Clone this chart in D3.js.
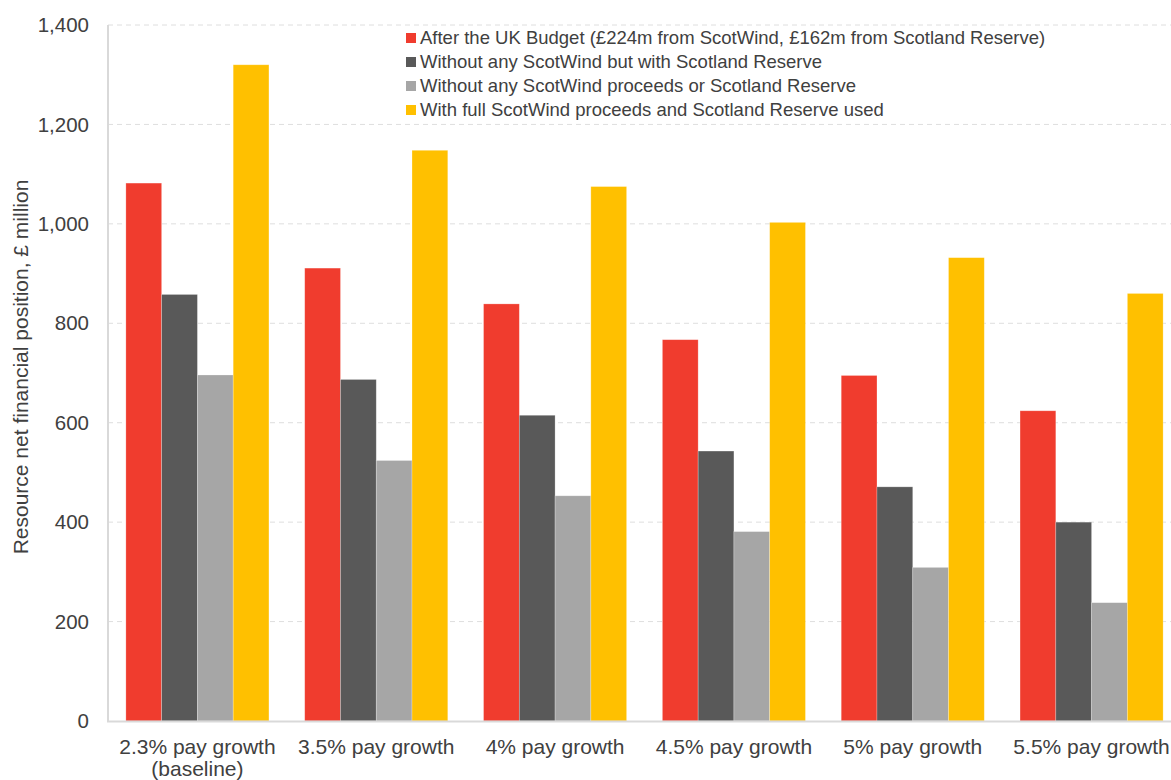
<!DOCTYPE html>
<html>
<head>
<meta charset="utf-8">
<script src="https://cdn.jsdelivr.net/npm/d3@7"></script>
<style>
  body { margin: 0; background: #fff; }
  svg text { font-family: "Liberation Sans", Arial, sans-serif; fill: #404040; }
</style>
</head>
<body>
<div id="chart"></div>
<script>
const categories = [
  ["2.3% pay growth", "(baseline)"],
  ["3.5% pay growth"],
  ["4% pay growth"],
  ["4.5% pay growth"],
  ["5% pay growth"],
  ["5.5% pay growth"]
];
const seriesNames = [
  "After the UK Budget (£224m from ScotWind, £162m from Scotland Reserve)",
  "Without any ScotWind but with Scotland Reserve",
  "Without any ScotWind proceeds or Scotland Reserve",
  "With full ScotWind proceeds and Scotland Reserve used"
];
const afterBudget = [1082, 911, 839, 767, 695, 624];
const noScotWind = [858, 687, 615, 543, 471, 400];
const noScotWindNoReserve = [696, 524, 453, 381, 309, 238];
const fullScotWind = [1320, 1148, 1075, 1003, 932, 860];
const yTicks = [0, 200, 400, 600, 800, 1000, 1200, 1400];
const colors = ["#F03C2E", "#595959", "#A6A6A6", "#FFC000"];

const series = [afterBudget, noScotWind, noScotWindNoReserve, fullScotWind];

let width = 1171, height = 780;
let margin = {left: 108, top: 25, bottom: 59};
let plotRight = 1181;

let svg = d3.select("#chart").append("svg")
  .attr("width", width)
  .attr("height", height);

let y = d3.scaleLinear()
  .domain([0, 1400])
  .range([height - margin.bottom, margin.top]);

let x0 = d3.scaleBand()
  .domain(categories.map((c, i) => i))
  .range([margin.left, plotRight])
  .paddingInner(0.2)
  .paddingOuter(0.1);

let x1 = d3.scaleBand()
  .domain(series.map((s, i) => i))
  .range([0, x0.bandwidth()]);

// gridlines
svg.append("g")
  .selectAll("line")
  .data(yTicks.filter(t => t > 0))
  .enter()
  .append("line")
  .attr("x1", margin.left)
  .attr("x2", width)
  .attr("y1", d => y(d))
  .attr("y2", d => y(d))
  .attr("stroke", "#dedede")
  .attr("stroke-width", 1)
  .attr("stroke-dasharray", "5,4");

// bars
let groups = svg.append("g")
  .selectAll("g")
  .data(categories.map((c, i) => i))
  .enter()
  .append("g")
  .attr("transform", i => `translate(${x0(i)},0)`);

groups.selectAll("rect")
  .data(i => series.map((s, k) => ({k: k, v: s[i]})))
  .enter()
  .append("rect")
  .attr("x", d => x1(d.k))
  .attr("width", x1.bandwidth())
  .attr("y", d => y(d.v))
  .attr("height", d => y(0) - y(d.v))
  .attr("fill", d => colors[d.k])
  .attr("stroke", "rgba(255,255,255,0.35)")
  .attr("stroke-width", 0.7);

// axes lines
svg.append("line")
  .attr("x1", margin.left).attr("x2", margin.left)
  .attr("y1", y(1400)).attr("y2", y(0))
  .attr("stroke", "#d9d9d9").attr("stroke-width", 2);
svg.append("line")
  .attr("x1", margin.left - 1).attr("x2", width)
  .attr("y1", y(0) + 0.5).attr("y2", y(0) + 0.5)
  .attr("stroke", "#d9d9d9").attr("stroke-width", 2);

// y tick labels
svg.append("g")
  .selectAll("text")
  .data(yTicks)
  .enter()
  .append("text")
  .attr("x", 89)
  .attr("y", d => y(d))
  .attr("dy", "0.35em")
  .attr("text-anchor", "end")
  .style("font-size", "20.5px")
  .text(d => d3.format(",")(d));

// category labels
let catLabels = svg.append("g")
  .selectAll("text")
  .data(categories)
  .enter()
  .append("text")
  .attr("text-anchor", "middle")
  .style("font-size", "21px")
  .attr("transform", (c, i) => `translate(${x0(i) + x0.bandwidth() / 2},${y(0) + 33})`);

catLabels.selectAll("tspan")
  .data(c => c)
  .enter()
  .append("tspan")
  .attr("x", 0)
  .attr("dy", (d, j) => j == 0 ? 0 : 22)
  .text(d => d);

// y axis title
svg.append("text")
  .attr("transform", `translate(28,367) rotate(-90)`)
  .attr("text-anchor", "middle")
  .style("font-size", "21px")
  .text("Resource net financial position, £ million");

// legend
let legend = svg.append("g")
  .attr("transform", "translate(406,38)");

let items = legend.selectAll("g")
  .data(seriesNames)
  .enter()
  .append("g")
  .attr("transform", (d, i) => `translate(0,${i * 24})`);

items.append("rect")
  .attr("x", 0)
  .attr("y", -5)
  .attr("width", 10)
  .attr("height", 10)
  .attr("fill", (d, i) => colors[i]);

items.append("text")
  .attr("x", 14)
  .attr("y", 0)
  .attr("dy", "0.35em")
  .style("font-size", "18.5px")
  .text(d => d);
</script>
</body>
</html>
